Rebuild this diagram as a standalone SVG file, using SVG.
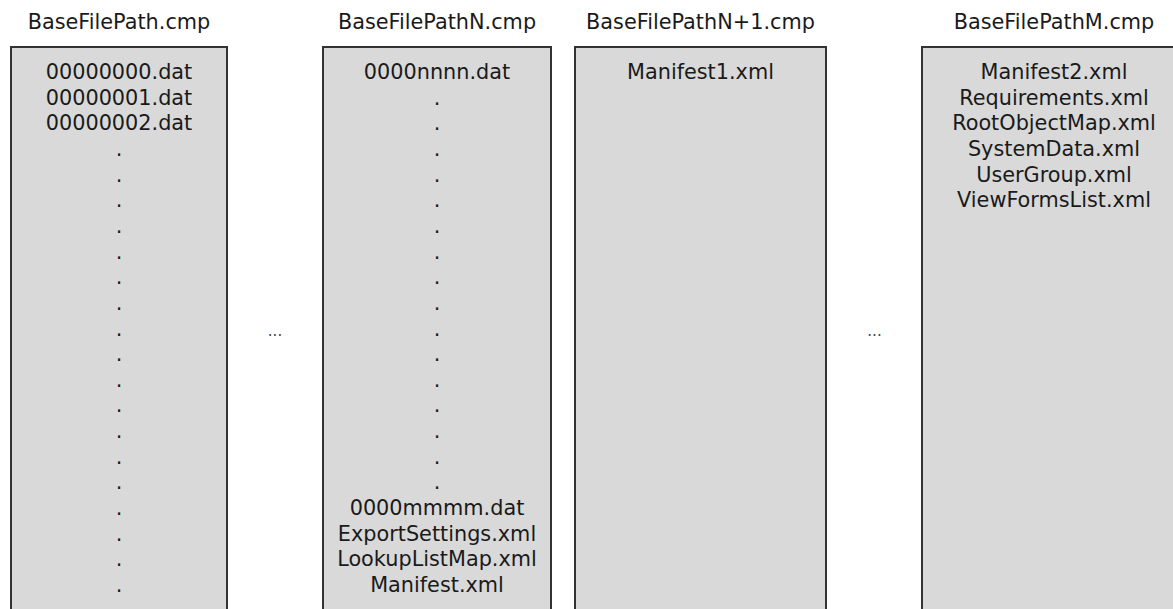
<svg xmlns="http://www.w3.org/2000/svg" width="1173" height="609" viewBox="0 0 1173 609">
<style>
.box{fill:#d9d9d9;stroke:#333;stroke-width:2}
text{font-family:"DejaVu Sans","Liberation Sans",sans-serif;font-size:20.8px;fill:#1a1a1a;text-anchor:middle}
.ell{font-size:15px;fill:#444}
</style>
<rect width="1173" height="609" fill="#fff"/>
<g id="node-basefilepath">
<text x="119" y="29">BaseFilePath.cmp</text>
<rect class="box" x="11" y="47" width="216" height="580"/>
<text x="119" y="79">00000000.dat</text>
<text x="119" y="104.65">00000001.dat</text>
<text x="119" y="130.3">00000002.dat</text>
<text x="119" y="155.95">.</text>
<text x="119" y="181.6">.</text>
<text x="119" y="207.25">.</text>
<text x="119" y="232.9">.</text>
<text x="119" y="258.55">.</text>
<text x="119" y="284.2">.</text>
<text x="119" y="309.85">.</text>
<text x="119" y="335.5">.</text>
<text x="119" y="361.15">.</text>
<text x="119" y="386.8">.</text>
<text x="119" y="412.45">.</text>
<text x="119" y="438.1">.</text>
<text x="119" y="463.75">.</text>
<text x="119" y="489.4">.</text>
<text x="119" y="515.05">.</text>
<text x="119" y="540.7">.</text>
<text x="119" y="566.35">.</text>
<text x="119" y="592">.</text>
</g>
<g id="node-basefilepathn">
<text x="437" y="29">BaseFilePathN.cmp</text>
<rect class="box" x="323" y="47" width="228" height="580"/>
<text x="437" y="79">0000nnnn.dat</text>
<text x="437" y="104.65">.</text>
<text x="437" y="130.3">.</text>
<text x="437" y="155.95">.</text>
<text x="437" y="181.6">.</text>
<text x="437" y="207.25">.</text>
<text x="437" y="232.9">.</text>
<text x="437" y="258.55">.</text>
<text x="437" y="284.2">.</text>
<text x="437" y="309.85">.</text>
<text x="437" y="335.5">.</text>
<text x="437" y="361.15">.</text>
<text x="437" y="386.8">.</text>
<text x="437" y="412.45">.</text>
<text x="437" y="438.1">.</text>
<text x="437" y="463.75">.</text>
<text x="437" y="489.4">.</text>
<text x="437" y="515.05">0000mmmm.dat</text>
<text x="437" y="540.7">ExportSettings.xml</text>
<text x="437" y="566.35">LookupListMap.xml</text>
<text x="437" y="592">Manifest.xml</text>
</g>
<g id="node-basefilepathn1">
<text x="700.5" y="29">BaseFilePathN+1.cmp</text>
<rect class="box" x="575" y="47" width="251" height="580"/>
<text x="700.5" y="79">Manifest1.xml</text>
</g>
<g id="node-basefilepathm">
<text x="1054" y="29">BaseFilePathM.cmp</text>
<rect class="box" x="922" y="47" width="265" height="580"/>
<text x="1054" y="79">Manifest2.xml</text>
<text x="1054" y="104.65">Requirements.xml</text>
<text x="1054" y="130.3">RootObjectMap.xml</text>
<text x="1054" y="155.95">SystemData.xml</text>
<text x="1054" y="181.6">UserGroup.xml</text>
<text x="1054" y="207.25">ViewFormsList.xml</text>
</g>
<g id="connectors">
<text class="ell" x="275" y="336">...</text>
<text class="ell" x="874.5" y="336">...</text>
</g>
</svg>
